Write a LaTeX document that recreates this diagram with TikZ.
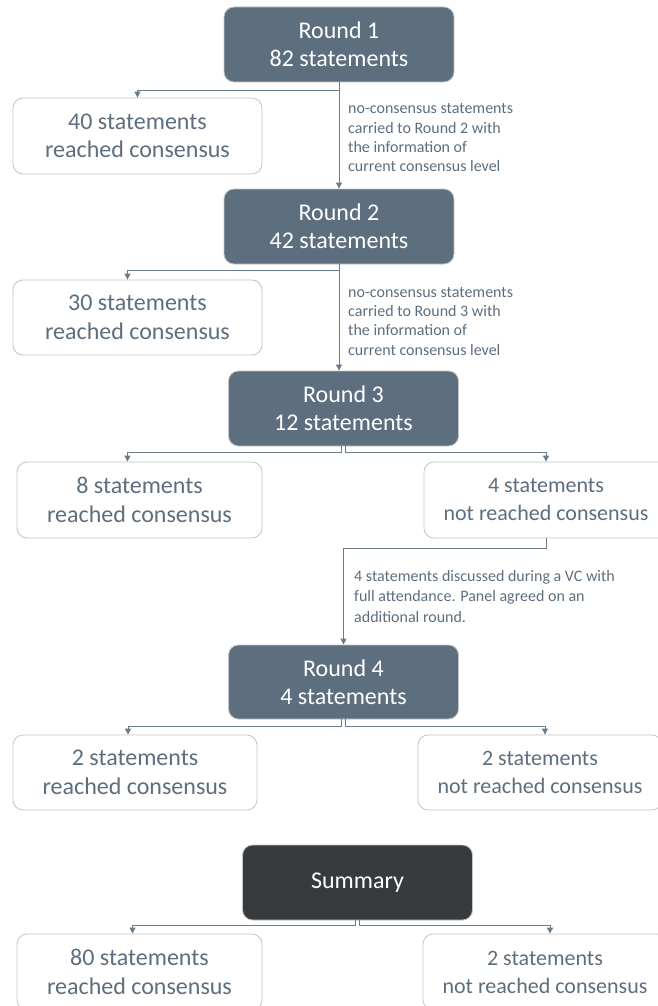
\documentclass[tikz,border=0pt]{standalone}
\usepackage{fontspec}
\setmainfont{Carlito}
\usetikzlibrary{arrows.meta}
\definecolor{slate}{HTML}{5D6E7E}
\definecolor{darkbox}{HTML}{383B3E}
\definecolor{boxline}{HTML}{C4C4C4}
\definecolor{linec}{HTML}{6A7B8B}
\begin{document}
\begin{tikzpicture}[x=1pt,y=1pt,
  roundbox/.style={rounded corners=10pt, minimum width=230pt, minimum height=75pt,
    fill=slate, draw=boxline, line width=0.8pt, text=white, align=center,
    font=\fontsize{24}{28.5}\selectfont, inner sep=0pt},
  sumbox/.style={roundbox, fill=darkbox},
  resbox/.style={rounded corners=10pt, minimum width=245pt, minimum height=76pt,
    fill=white, draw=boxline, line width=0.8pt, text=slate, align=center,
    font=\fontsize{24}{28.5}\selectfont, inner sep=0pt},
  nresbox/.style={resbox, font=\fontsize{22}{28}\selectfont},
  conn/.style={draw=linec, line width=0.9pt, -{Triangle[width=6pt,length=6pt]}},
  note/.style={text=slate, align=left, anchor=north west, inner sep=0pt,
    font=\fontsize{16}{19.3}\selectfont}
]
\useasboundingbox (0,0) rectangle (657,-1006);

\node[roundbox] (r1) at (339,-44.5) {Round 1\\82 statements};
\node[resbox, minimum width=249pt] (c1) at (137.5,-136) {40 statements\\reached consensus};
\node[roundbox] (r2) at (339,-226.5) {Round 2\\42 statements};
\node[resbox, minimum width=249pt, minimum height=75pt] (c2) at (137.5,-317.5) {30 statements\\reached consensus};
\node[roundbox] (r3) at (343.5,-408.5) {Round 3\\12 statements};
\node[resbox] (c3) at (139.5,-500) {8 statements\\reached consensus};
\node[nresbox, minimum width=244pt] (n3) at (546,-500) {4 statements\\not reached consensus};
\node[roundbox, minimum height=74pt] (r4) at (343.5,-682) {Round 4\\4 statements};
\node[resbox, minimum width=244pt, minimum height=75pt] (c4) at (135,-772.5) {2 statements\\reached consensus};
\node[nresbox, minimum width=244pt, minimum height=75pt] (n4) at (540,-772.5) {2 statements\\not reached consensus};
\node[sumbox] (s) at (357.5,-882.5) {Summary};
\node[resbox] (c5) at (139.5,-972) {80 statements\\reached consensus};
\node[nresbox, minimum width=244pt] (n5) at (545,-972) {2 statements\\not reached consensus};

% Round 1
\draw[conn] (r1.south) -- (r2.north);
\draw[conn] (r1.south) -- ++(0,-8) -| (c1.north);
\node[note] (l1) at (348,-103.5) {no-consensus statements\\carried to Round 2 with\\the information of\\current consensus level};

% Round 2
\draw[conn] (r2.south) -- (r2.south |- r3.north);
\draw[conn] (r2.south) -- ++(0,-6) -| ([xshift=-10pt]c2.north);
\node[note] (l2) at (348,-287) {no-consensus statements\\carried to Round 3 with\\the information of\\current consensus level};

% Round 3
\draw[conn] ([xshift=-2pt]r3.south) -- ++(0,-6) -| ([xshift=-12pt]c3.north);
\draw[conn] ([xshift=2pt]r3.south) -- ++(0,-6) -| (n3.north);
\draw[conn] (n3.south) -- ++(0,-10) -| (r4.north);
\node[note, font=\fontsize{16}{20.5}\selectfont] (l3) at (354,-570) {4 statements discussed during a VC with\\full attendance. Panel agreed on an\\additional round.};

% Round 4
\draw[conn] ([xshift=-2pt]r4.south) -- ++(0,-7) -| ([xshift=-7pt]c4.north);
\draw[conn] ([xshift=2pt]r4.south) -- ++(0,-7) -| ([xshift=5pt]n4.north);

% Summary
\draw[conn] ([xshift=-2pt]s.south) -- ++(0,-5) -| ([xshift=-7pt]c5.north);
\draw[conn] ([xshift=2pt]s.south) -- ++(0,-5) -| ([xshift=5pt]n5.north);
\end{tikzpicture}
\end{document}
